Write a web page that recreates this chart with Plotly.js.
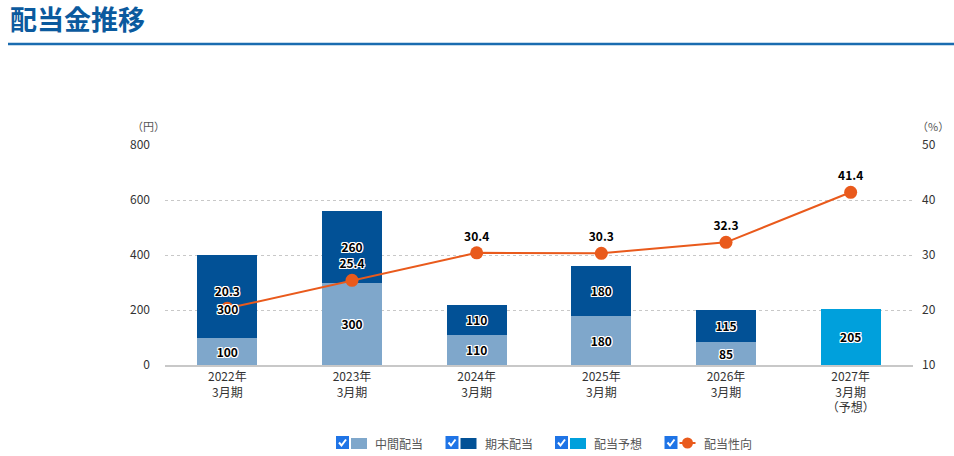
<!DOCTYPE html>
<html><head><meta charset="utf-8">
<script src="https://cdn.plot.ly/plotly-3.0.1.min.js"></script>
<style>html,body{margin:0;padding:0;background:#fff;}#chart{width:954px;height:456px;}</style>
</head><body><div id="chart"></div>
<script>
var categories = ["2022年<br>3月期", "2023年<br>3月期", "2024年<br>3月期", "2025年<br>3月期", "2026年<br>3月期", "2027年<br>3月期<br>（予想）"];
var interimDiv = [100, 300, 110, 180, 85, null];
var yearEndDiv = [300, 260, 110, 180, 115, null];
var forecastDiv = [null, null, null, null, null, 205];
var payoutRatio = [20.3, 25.4, 30.4, 30.3, 32.3, 41.4];
var leftTicks = [0, 200, 400, 600, 800];
var rightTicks = [10, 20, 30, 40, 50];
var legendNames = ['中間配当', '期末配当', '配当予想', '配当性向'];
var seriesColors = ['#7fa7cb', '#025196', '#00a0dc', '#e95a1c'];

var FONT = '"Noto Sans CJK JP", "Noto Sans", sans-serif';
var shadow = '1px 1px 0 #fff, -1px -1px 0 #fff, 1px -1px 0 #fff, -1px 1px 0 #fff, 0 1px 0 #fff, 0 -1px 0 #fff, 1px 0 0 #fff, -1px 0 0 #fff';
var barText = {family: FONT, size: 12, color: '#000', weight: 700, shadow: shadow};

// plot area in pixels
var PL = 165, PR = 913, PT = 145, PB = 365;
function px(x) { return (x - PL) / (PR - PL); }
function py(y) { return (PB - y) / (PB - PT); }

// index of the year-end label that the reference moves onto the payout point
var movedLabel = 0;

function barTrace(name, vals, color, skip) {
  return {
    type: 'bar', name: name, x: categories, y: vals,
    marker: {color: color},
    text: vals.map(function(v, i){ return (v == null || i === skip) ? '' : String(v); }),
    textposition: 'inside', insidetextanchor: 'middle', textangle: 0,
    constraintext: 'none', textfont: barText, hoverinfo: 'none', cliponaxis: false,
    showlegend: false
  };
}

var data = [
  barTrace(legendNames[0], interimDiv, seriesColors[0], -1),
  barTrace(legendNames[1], yearEndDiv, seriesColors[1], movedLabel),
  barTrace(legendNames[2], forecastDiv, seriesColors[2], -1),
  {
    type: 'scatter', mode: 'lines+markers+text', name: legendNames[3],
    x: categories, y: payoutRatio, yaxis: 'y2',
    line: {color: seriesColors[3], width: 2},
    marker: {color: seriesColors[3], size: 13},
    text: payoutRatio.map(function(v){ return v.toFixed(1); }),
    textposition: 'top center',
    textfont: barText, cliponaxis: false, hoverinfo: 'none', showlegend: false
  }
];

var shapes = [
  {type: 'line', xref: 'paper', yref: 'paper', x0: px(8), x1: px(954),
   y0: py(44), y1: py(44), line: {color: '#1a6cb0', width: 2.5}}
];
var annotations = [
  {text: '（円）', xref: 'paper', yref: 'paper', x: px(148), y: py(126),
   xanchor: 'center', yanchor: 'middle', showarrow: false, font: {size: 11, color: '#555'}},
  {text: '（%）', xref: 'paper', yref: 'paper', x: px(933), y: py(126),
   xanchor: 'center', yanchor: 'middle', showarrow: false, font: {size: 11, color: '#555'}},
  {text: String(yearEndDiv[movedLabel]), xref: 'x', yref: 'y2', x: categories[movedLabel],
   y: payoutRatio[movedLabel], yshift: 0, xanchor: 'center', yanchor: 'middle', showarrow: false,
   font: barText}
];

// custom legend with checkboxes
legendNames.forEach(function(name, i) {
  var x0 = 336 + 109.5 * i, yT = 436, yB = 449;
  shapes.push({type: 'rect', xref: 'paper', yref: 'paper', x0: px(x0), x1: px(x0 + 13),
    y0: py(yB), y1: py(yT), fillcolor: '#1f74e6', line: {width: 0}});
  shapes.push({type: 'path', xref: 'paper', yref: 'paper',
    path: 'M' + px(x0 + 3) + ',' + py(442.5) + ' L' + px(x0 + 5.5) + ',' + py(445.5) +
          ' L' + px(x0 + 10) + ',' + py(439.5),
    line: {color: '#fff', width: 2}});
  if (i < 3) {
    shapes.push({type: 'rect', xref: 'paper', yref: 'paper', x0: px(x0 + 15), x1: px(x0 + 31),
      y0: py(449), y1: py(438), fillcolor: seriesColors[i], line: {width: 0}});
  } else {
    shapes.push({type: 'line', xref: 'paper', yref: 'paper', x0: px(x0 + 15), x1: px(x0 + 31),
      y0: py(443), y1: py(443), line: {color: seriesColors[i], width: 2}});
    shapes.push({type: 'circle', xref: 'paper', yref: 'paper', x0: px(x0 + 17.5), x1: px(x0 + 28.5),
      y0: py(448.5), y1: py(437.5), fillcolor: seriesColors[i], line: {width: 0}});
  }
  annotations.push({text: name, xref: 'paper', yref: 'paper', x: px(x0 + 37), y: py(443),
    xanchor: 'left', yanchor: 'middle', showarrow: false, font: {size: 12, color: '#555'}});
});

var layout = {
  width: 954, height: 456,
  margin: {l: PL, r: 954 - PR, t: PT, b: 456 - PB, autoexpand: false},
  paper_bgcolor: '#fff', plot_bgcolor: '#fff',
  font: {family: FONT, color: '#333', size: 12},
  barmode: 'stack', bargap: 0.52,
  showlegend: false,
  title: {text: '配当金推移', x: 10/954, xanchor: 'left', y: 1 - 21/456, yanchor: 'middle',
          font: {family: FONT, size: 27, color: '#0b5a9e', weight: 700}},
  xaxis: {showgrid: false, showline: true, linecolor: '#c8c8c8', linewidth: 1.5,
          ticks: '', tickfont: {size: 12, color: '#333'}, fixedrange: true, automargin: false},
  yaxis: {range: [0, 800], tickvals: leftTicks, showgrid: true, gridcolor: '#c8c8c8',
          griddash: 'dot', gridwidth: 1, zeroline: false, ticks: '', ticklabelstandoff: 14,
          tickfont: {size: 12, color: '#333'}, automargin: false},
  yaxis2: {range: [10, 50], tickvals: rightTicks, overlaying: 'y', side: 'right',
           showgrid: false, zeroline: false, ticks: '', ticklabelstandoff: 8,
           tickfont: {size: 12, color: '#333'}, automargin: false},
  shapes: shapes,
  annotations: annotations
};

Plotly.newPlot('chart', data, layout, {displayModeBar: false, staticPlot: true});
</script></body></html>
